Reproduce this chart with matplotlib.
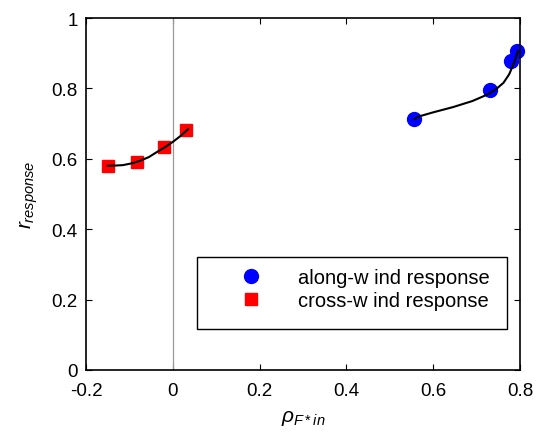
import matplotlib
matplotlib.use('Agg')
import matplotlib.pyplot as plt
from matplotlib.patches import Rectangle

plt.rcParams['font.family'] = ['Liberation Sans', 'DejaVu Sans']
plt.rcParams['mathtext.fontset'] = 'custom'
plt.rcParams['mathtext.it'] = 'Liberation Sans:italic'
plt.rcParams['mathtext.rm'] = 'Liberation Sans'

# measured points
along_x = [0.556, 0.731, 0.780, 0.793]
along_y = [0.714, 0.795, 0.878, 0.905]
cross_x = [-0.150, -0.083, -0.021, 0.030]
cross_y = [0.580, 0.590, 0.634, 0.682]

# fitted curves
along_fit_x = [0.556, 0.569, 0.600, 0.646, 0.690, 0.724, 0.745, 0.762, 0.775, 0.784, 0.790, 0.795]
along_fit_y = [0.713, 0.721, 0.732, 0.747, 0.764, 0.782, 0.798, 0.816, 0.840, 0.866, 0.886, 0.906]
cross_fit_x = [-0.150, -0.130, -0.115, -0.095, -0.076, -0.055, -0.037, -0.018, 0.000, 0.018, 0.035]
cross_fit_y = [0.580, 0.581, 0.582, 0.587, 0.594, 0.605, 0.619, 0.633, 0.648, 0.665, 0.684]

fig = plt.figure(figsize=(5.37, 4.35), dpi=100)
ax = fig.add_axes([86/537, 1 - 371/435, 434/537, 352/435])

ax.plot([0, 0], [0, 1], color='#999999', lw=0.9)
ax.plot(along_x, along_y, 'o', color='blue', ms=10, label='along-w ind response', clip_on=False)
ax.plot(cross_x, cross_y, 's', color='red', ms=9, label='cross-w ind response', clip_on=False)
ax.plot(along_fit_x, along_fit_y, 'k-', lw=1.5)
ax.plot(cross_fit_x, cross_fit_y, 'k-', lw=1.5)

ax.set_xlim(-0.2, 0.8)
ax.set_ylim(0, 1)
ax.set_xticks([-0.2, 0, 0.2, 0.4, 0.6, 0.8])
ax.set_xticklabels(['-0.2', '0', '0.2', '0.4', '0.6', '0.8'])
ax.set_yticks([0, 0.2, 0.4, 0.6, 0.8, 1])
ax.set_yticklabels(['0', '0.2', '0.4', '0.6', '0.8', '1'])
ax.tick_params(direction='in', top=True, right=True, length=4, labelsize=13.5)
ax.tick_params(axis='x', pad=9)
ax.tick_params(axis='y', pad=6)
for s in ax.spines.values():
    s.set_linewidth(1.2)

ax.set_xlabel(r'$\rho_{F*in}$', fontsize=15, labelpad=6)
ax.set_ylabel(r'$r_{response}$', fontsize=15, labelpad=8)

# legend box drawn separately (MATLAB-style box with extra room at the bottom)
ax.add_patch(Rectangle((0.2558, 0.1165), 0.714, 0.2045, transform=ax.transAxes,
                       facecolor='white', edgecolor='black', lw=1.0, zorder=4))
leg = ax.legend(loc='upper left', bbox_to_anchor=(0.2558, 0.321),
                frameon=False, fontsize=14.5, handlelength=4.3, handletextpad=0.15,
                borderpad=0.55, labelspacing=0.2, borderaxespad=0, numpoints=1)
leg.set_zorder(5)

fig.savefig('out.png', dpi=100)
